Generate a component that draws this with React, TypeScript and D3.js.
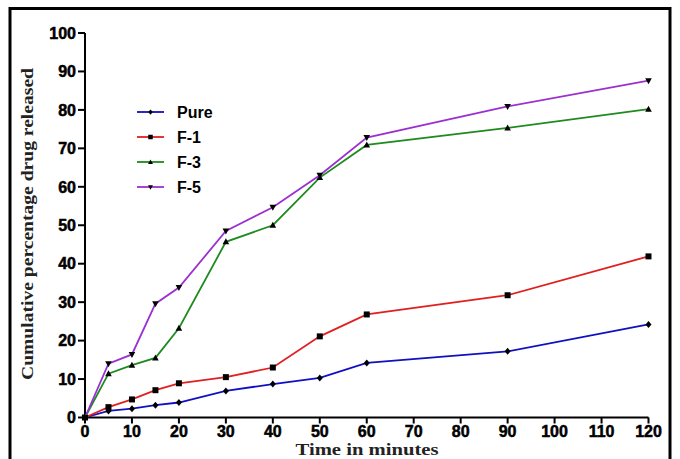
import React from 'react';
import * as d3 from 'd3';

const times = [0, 5, 10, 15, 20, 30, 40, 50, 60, 90, 120];
const pure = [0, 1.7, 2.3, 3.2, 3.9, 6.9, 8.7, 10.3, 14.2, 17.2, 24.2];
const f1 = [0, 2.7, 4.7, 7.1, 8.9, 10.5, 13.0, 21.1, 26.8, 31.8, 41.9];
const f3 = [0, 11.4, 13.6, 15.5, 23.2, 45.7, 50.0, 62.4, 70.9, 75.3, 80.2];
const f5 = [0, 14.0, 16.4, 29.6, 33.8, 48.5, 54.7, 63.0, 72.8, 80.9, 87.6];
const xTicks = [0, 10, 20, 30, 40, 50, 60, 70, 80, 90, 100, 110, 120];
const yTicks = [0, 10, 20, 30, 40, 50, 60, 70, 80, 90, 100];

const series = [
  { name: 'Pure', values: pure, color: '#1010c0', marker: 'diamond' },
  { name: 'F-1', values: f1, color: '#e02020', marker: 'square' },
  { name: 'F-3', values: f3, color: '#1f8a1f', marker: 'up' },
  { name: 'F-5', values: f5, color: '#9b30d0', marker: 'down' },
];

const markerPath = (type: string, cx: number, cy: number, r = 1) => {
  switch (type) {
    case 'diamond':
      return `M${cx},${cy - 3.5 * r}L${cx + 3 * r},${cy}L${cx},${cy + 3.5 * r}L${cx - 3 * r},${cy}Z`;
    case 'square':
      return `M${cx - 3 * r},${cy - 3 * r}h${6 * r}v${6 * r}h${-6 * r}Z`;
    case 'up':
      return `M${cx},${cy - 3.5 * r}L${cx + 3.3 * r},${cy + 2.5 * r}L${cx - 3.3 * r},${cy + 2.5 * r}Z`;
    default:
      return `M${cx},${cy + 3.5 * r}L${cx + 3.3 * r},${cy - 2.5 * r}L${cx - 3.3 * r},${cy - 2.5 * r}Z`;
  }
};

const App = () => {
  const width = 680, height = 459;
  const x = d3.scaleLinear().domain([0, 120]).range([85, 648.5]);
  const y = d3.scaleLinear().domain([0, 100]).range([417.5, 33]);

  const line = d3.line<number>()
    .x((_, i) => x(times[i]))
    .y(d => y(d));

  const tickFont = { fontFamily: 'Liberation Sans, Arial, sans-serif', fontWeight: 700, fontSize: 16 };
  const serif = { fontFamily: 'Liberation Serif, Times New Roman, serif', fontWeight: 700 };

  return (
    <svg width={width} height={height} style={{ position: 'absolute', left: 0, top: 0, background: '#fff' }}>
      <rect x={10} y={8.5} width={660} height={470} fill="#fff" stroke="#000" strokeWidth={3} />

      {/* axes */}
      <line x1={x(0)} x2={x(0)} y1={y(100)} y2={y(0)} stroke="#000" strokeWidth={2} />
      <line x1={x(0)} x2={x(120)} y1={y(0)} y2={y(0)} stroke="#000" strokeWidth={2} />
      {yTicks.map(t => (
        <g key={'y' + t}>
          <line x1={x(0) - 7} x2={x(0)} y1={y(t)} y2={y(t)} stroke="#000" strokeWidth={2} />
          <text x={x(0) - 9} y={y(t)} dy="0.36em" textAnchor="end" stroke="#000" strokeWidth={0.5} style={tickFont}>{t}</text>
        </g>
      ))}
      {xTicks.map(t => (
        <g key={'x' + t}>
          <line x1={x(t)} x2={x(t)} y1={y(0)} y2={y(0) + 6} stroke="#000" strokeWidth={2} />
          <text x={x(t)} y={437} textAnchor="middle" stroke="#000" strokeWidth={0.5} style={tickFont}>{t}</text>
        </g>
      ))}

      {/* axis titles */}
      <text x={367} y={455} textAnchor="middle" textLength={143} lengthAdjust="spacingAndGlyphs"
        fill="#222" style={{ ...serif, fontSize: 16 }}>
        Time in minutes
      </text>
      <text transform="translate(33,224) rotate(-90)" textAnchor="middle" textLength={312} lengthAdjust="spacingAndGlyphs"
        fill="#222" style={{ ...serif, fontSize: 17 }}>
        Cumulative percentage drug released
      </text>

      {/* series */}
      {series.map(s => (
        <g key={s.name}>
          <path d={line(s.values) || ''} fill="none" stroke={s.color} strokeWidth={1.8} />
          {s.values.map((v, i) => (
            <path key={i} d={markerPath(s.marker, x(times[i]), y(v))} fill="#000" />
          ))}
        </g>
      ))}

      {/* legend */}
      {series.map((s, i) => {
        const ly = 112 + i * 25;
        return (
          <g key={'lg' + s.name}>
            <line x1={137} x2={164} y1={ly} y2={ly} stroke={s.color} strokeWidth={1.8} />
            <path d={markerPath(s.marker, 150.5, ly, 0.75)} fill="#000" />
            <text x={177} y={ly} dy="0.36em"
              style={{ fontFamily: 'Liberation Sans, Arial, sans-serif', fontWeight: 700, fontSize: 16 }}>
              {s.name}
            </text>
          </g>
        );
      })}
    </svg>
  );
};

export default App;
